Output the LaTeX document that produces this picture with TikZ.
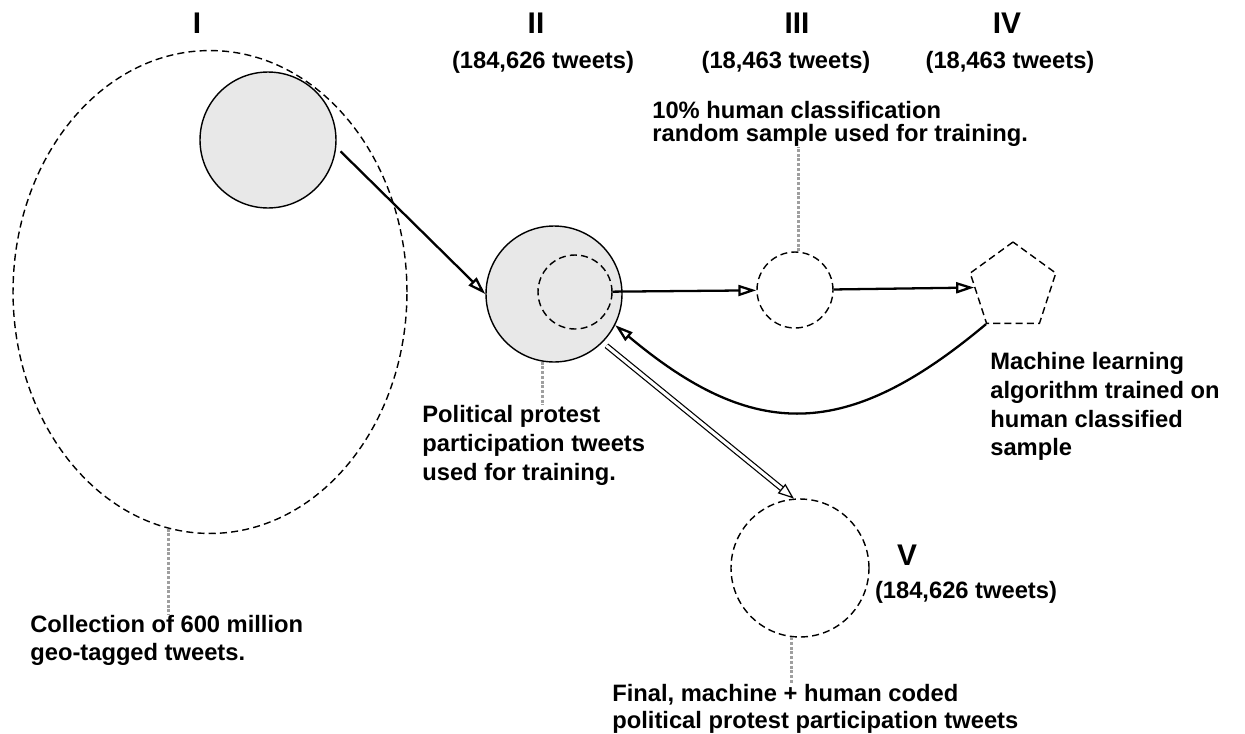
\documentclass[tikz,border=0pt]{standalone}
\usepackage{fontspec}
\setmainfont{Liberation Sans}
\usetikzlibrary{positioning, arrows.meta, shapes.geometric, calc}
\definecolor{setfill}{HTML}{E8E8E8}

\begin{document}
\begin{tikzpicture}[
    x=0.02cm, y=-0.02cm,
    font=\fontsize{13.5}{16}\selectfont\bfseries,
    stage/.style={font=\fontsize{17}{20}\selectfont\bfseries, inner sep=0, anchor=base},
    tally/.style={inner sep=0, anchor=base},
    note/.style={align=left, anchor=north west, inner sep=0},
    dsh/.style={dash pattern=on 4pt off 2.4pt},
    fullset/.style={circle, draw, line width=0.8pt, fill=setfill, inner sep=0},
    openset/.style={circle, draw, line width=0.8pt, dsh, inner sep=0},
    arr/.style={-{Triangle[open, length=3.6mm, width=2.2mm]}, line width=1.3pt},
    darr/.style={-{Triangle[open, length=3.2mm, width=2.4mm]}, double, double distance=1.8pt, line width=0.7pt},
    leader/.style={draw=gray!75, densely dotted, line width=1.7pt}
]
\useasboundingbox (0,0) rectangle (1245,734);

% --- Stage headers ---
\node[stage] (h1) at (197,33) {I};
\node[stage] (h2) at (536,33) {II};
\node[tally] (t2) at (543,68) {(184,626 tweets)};
\node[stage] (h3) at (797,33) {III};
\node[tally] (t3) at (786,68) {(18,463 tweets)};
\node[stage] (h4) at (1007,33) {IV};
\node[tally] (t4) at (1010,68) {(18,463 tweets)};
\node[stage] (h5) at (907,565) {V};
\node[tally] (t5) at (966,598) {(184,626 tweets)};

% --- Sets ---
\node[fullset, minimum size=2.72cm] (s1) at (268,140) {};
\node[ellipse, draw, line width=0.8pt, dsh, minimum width=7.88cm, minimum height=9.66cm, inner sep=0] (ell) at (210,292) {};
\node[fullset, minimum size=2.72cm] (c2) at (554,294) {};
\node[openset, minimum size=1.48cm] (in2) at (575,292) {};
\node[openset, minimum size=1.52cm] (c3) at (795,290) {};
\node[regular polygon, regular polygon sides=5, draw, line width=0.8pt, dsh, minimum size=1.8cm, inner sep=0] (pent) at (1013,287) {};
\node[openset, minimum size=2.76cm] (c5) at (800,568) {};

% --- Notes ---
\node[note, font=\fontsize{13.5}{13}\selectfont\bfseries] (samp) at (652,101) {10\% human classification\\random sample used for training.};
\node[note, font=\fontsize{13.5}{16.4}\selectfont\bfseries] (prot) at (422,405) {Political protest\\participation tweets\\used for training.};
\node[note, font=\fontsize{13.5}{16.4}\selectfont\bfseries] (ml) at (990,352) {Machine learning\\algorithm trained on\\human classified\\sample};
\node[note, font=\fontsize{13.5}{15.9}\selectfont\bfseries] (coll) at (30,615) {Collection of 600 million\\geo-tagged tweets.};
\node[note, font=\fontsize{13.5}{15.3}\selectfont\bfseries] (fin) at (612,684) {Final, machine + human coded\\political protest participation tweets};

% --- Leaders ---
\draw[leader] (ell.-100.3) -- (ell.-100.3 |- coll.north);
\draw[leader] (c2.-100) -- (c2.-100 |- prot.north);
\draw[leader] (c3.85) -- (c3.85 |- samp.south);
\draw[leader] ($(pent.corner 3)!0.67!(pent.corner 4)$) -- ($(pent.corner 3)!0.67!(pent.corner 4)$ |- ml.north);
\draw[leader] (c5.-97.5) -- (c5.-97.5 |- fin.north);

% --- Connectors ---
\draw[arr, shorten <=1.2mm] (s1.-6) -- (c2.west);
\draw[arr] (in2) -- (c3);
\draw[arr] (c3) -- (pent);
\draw[arr] (pent.corner 3) to[out=220, in=-40, looseness=1.25] (c2.-27);
\draw[darr, shorten <=1mm] (c2.-45) -- (c5.95);

\end{tikzpicture}
\end{document}
